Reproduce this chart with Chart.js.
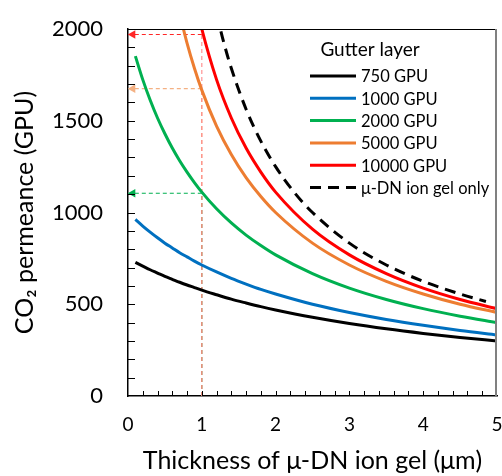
<!DOCTYPE html>
<html>
<head>
<meta charset="utf-8">
<script src="https://cdn.jsdelivr.net/npm/chart.js@4.4.1/dist/chart.umd.min.js"></script>
<style>
  html, body { margin: 0; padding: 0; background: #fff; }
  #wrap { width: 502px; height: 476px; }
</style>
</head>
<body>
<div id="wrap"><canvas id="permChart"></canvas></div>
<script>
// thickness of the u-DN ion gel layer (um)
var thickness = [0.1, 0.2, 0.3, 0.4, 0.5, 0.6, 0.7, 0.8, 0.9, 1.0, 1.2, 1.4, 1.6, 1.8, 2.0, 2.5, 3.0, 3.5, 4.0, 4.5, 5.0];

// CO2 permeance (GPU) of the composite for each gutter layer
var gutter750   = [728, 708, 688, 670, 652, 636, 620, 605, 591, 577, 552, 528, 507, 487, 469, 429, 395, 366, 341, 319, 300];
var gutter1000  = [962, 926, 893, 862, 833, 807, 781, 758, 735, 714, 676, 641, 610, 581, 556, 500, 455, 417, 385, 357, 333];
var gutter2000  = [1852, 1724, 1613, 1515, 1429, 1351, 1282, 1220, 1163, 1111, 1020, 943, 877, 820, 769, 667, 588, 526, 476, 435, 400];
var gutter5000  = [null, null, null, null, null, null, 2083, 1923, 1786, 1667, 1471, 1316, 1190, 1087, 1000, 833, 714, 625, 556, 500, 455];
var gutter10000 = [null, null, null, null, null, null, null, null, 2174, 2000, 1724, 1515, 1351, 1220, 1111, 909, 769, 667, 588, 526, 476];

// ion gel alone
var gelThickness = [1.2, 1.3, 1.4, 1.6, 1.8, 2.0, 2.25, 2.5, 3.0, 3.5, 4.0, 4.5, 4.85];
var gelOnly      = [2083, 1923, 1786, 1563, 1389, 1250, 1111, 1000, 833, 714, 625, 556, 515];

var seriesNames  = ['750 GPU', '1000 GPU', '2000 GPU', '5000 GPU', '10000 GPU', 'μ-DN ion gel only'];
var seriesColors = ['#000000', '#0070C0', '#00B050', '#ED7D31', '#FF0000', '#000000'];

// read-off guides at 1 um
var guideAt     = 1;
var guideLevels = [1970, 1675, 1105];
var guideColors = ['rgba(255, 0, 0, 0.85)', 'rgba(244, 177, 131, 1)', 'rgba(0, 176, 80, 1)'];
var guideVLine  = ['rgba(255, 120, 120, 0.8)', 'rgba(244, 177, 131, 0.8)', 'rgba(0, 176, 80, 0.85)'];

var yTicks = [0, 500, 1000, 1500, 2000];
var xTicks = [0, 1, 2, 3, 4, 5];

function pts(xs, ys) {
  var out = [];
  for (var i = 0; i < xs.length; i++) {
    if (ys[i] !== null) out.push({ x: xs[i], y: ys[i] });
  }
  return out;
}

var gutterSeries = [gutter750, gutter1000, gutter2000, gutter5000, gutter10000];
var datasets = [];
for (var i = 0; i < gutterSeries.length; i++) {
  datasets.push({
    data: pts(thickness, gutterSeries[i]),
    borderColor: seriesColors[i],
    borderWidth: 3,
    pointRadius: 0,
    cubicInterpolationMode: 'monotone',
    order: 2
  });
}
datasets.push({
  data: pts(gelThickness, gelOnly),
  borderColor: seriesColors[5],
  borderWidth: 3,
  borderDash: [11, 7],
  pointRadius: 0,
  cubicInterpolationMode: 'monotone',
  order: 1
});
for (var g = 0; g < guideLevels.length; g++) {
  datasets.push({
    data: [{ x: guideAt, y: 0 }, { x: guideAt, y: guideLevels[g] }, { x: 0.065, y: guideLevels[g] }],
    borderColor: guideVLine[g],
    segment: { borderColor: (function (c) { return function (ctx) { return ctx.p0DataIndex === 1 ? c : undefined; }; })(guideColors[g]) },
    borderWidth: 1.2,
    borderDash: [4, 3],
    tension: 0,
    pointRadius: [0, 0, 5],
    pointStyle: 'triangle',
    rotation: -90,
    pointBackgroundColor: guideColors[g],
    pointBorderColor: guideColors[g],
    pointBorderWidth: 0,
    clip: false,
    order: 10
  });
}

// frame, inward ticks and the legend box
var decor = {
  id: 'decor',
  afterDatasetsDraw: function (chart) {
    var c = chart.ctx, a = chart.chartArea;
    var xs = chart.scales.x, ys = chart.scales.y;
    c.save();
    c.strokeStyle = '#000';
    c.lineWidth = 1;
    c.beginPath();
    c.moveTo(a.left, a.top + 0.5);
    c.lineTo(a.right, a.top + 0.5);
    c.stroke();
    c.strokeStyle = '#808080';
    c.lineWidth = 2;
    c.beginPath();
    c.moveTo(a.right - 1, a.top);
    c.lineTo(a.right - 1, a.bottom);
    c.stroke();

    c.strokeStyle = '#000';
    c.lineWidth = 1;
    c.beginPath();
    for (var v = 100; v < 2000; v += 100) {
      var py = Math.round(ys.getPixelForValue(v)) + 0.5;
      c.moveTo(a.left, py);
      c.lineTo(a.left + 7, py);
    }
    for (var k = 1; k < 25; k++) {
      var px = Math.round(xs.getPixelForValue(k * 0.2)) + 0.5;
      c.moveTo(px, a.bottom);
      c.lineTo(px, a.bottom - 5);
    }
    c.stroke();

    // legend
    c.fillStyle = '#000';
    c.textBaseline = 'middle';
    c.textAlign = 'center';
    c.font = '19px Lato';
    c.fillText('Gutter layer', 370, 50);
    c.textAlign = 'left';
    c.font = '16.5px Lato';
    for (var i = 0; i < seriesNames.length; i++) {
      var ly = 76 + i * 22.3;
      c.strokeStyle = seriesColors[i];
      c.lineWidth = 3;
      c.setLineDash(i === 5 ? [11, 7] : []);
      c.beginPath();
      c.moveTo(310, ly);
      c.lineTo(356, ly);
      c.stroke();
      c.fillText(seriesNames[i], 361, ly + 1);
    }
    c.restore();
  }
};

new Chart(document.getElementById('permChart'), {
  type: 'line',
  data: { datasets: datasets },
  plugins: [decor],
  options: {
    responsive: true,
    maintainAspectRatio: false,
    animation: false,
    layout: { padding: { top: 29, right: 4, left: 0, bottom: 0 } },
    plugins: { legend: { display: false }, tooltip: { enabled: false } },
    scales: {
      x: {
        type: 'linear',
        min: 0, max: 5,
        afterBuildTicks: function (s) { s.ticks = xTicks.map(function (v) { return { value: v }; }); },
        afterFit: function (s) { s.height = 80; s.paddingLeft = 0; s.paddingRight = 0; },
        grid: { display: false, drawTicks: false },
        border: { color: '#000', width: 1.5 },
        ticks: { color: '#000', padding: 17, font: { family: 'Lato', size: 19 }, maxRotation: 0,
                 callback: function (v) { return String(v); } },
        title: {
          display: true,
          text: 'Thickness of μ-DN ion gel (μm)',
          color: '#000',
          font: { family: 'Lato', size: 25 },
          padding: { top: 0, bottom: 0 }
        }
      },
      y: {
        min: 0, max: 2000,
        afterBuildTicks: function (s) { s.ticks = yTicks.map(function (v) { return { value: v }; }); },
        afterFit: function (s) { s.width = 128; s.paddingTop = 0; s.paddingBottom = 0; },
        grid: { display: false, drawTicks: false },
        border: { color: '#000', width: 1.5 },
        ticks: { color: '#000', padding: 25, font: { family: 'Lato', size: 22 },
                 callback: function (v) { return String(v); } },
        title: {
          display: true,
          text: 'CO₂ permeance (GPU)',
          color: '#000',
          font: { family: 'Lato', size: 25 },
          padding: { top: 10, bottom: 0 }
        }
      }
    }
  }
});
</script>
</body>
</html>
